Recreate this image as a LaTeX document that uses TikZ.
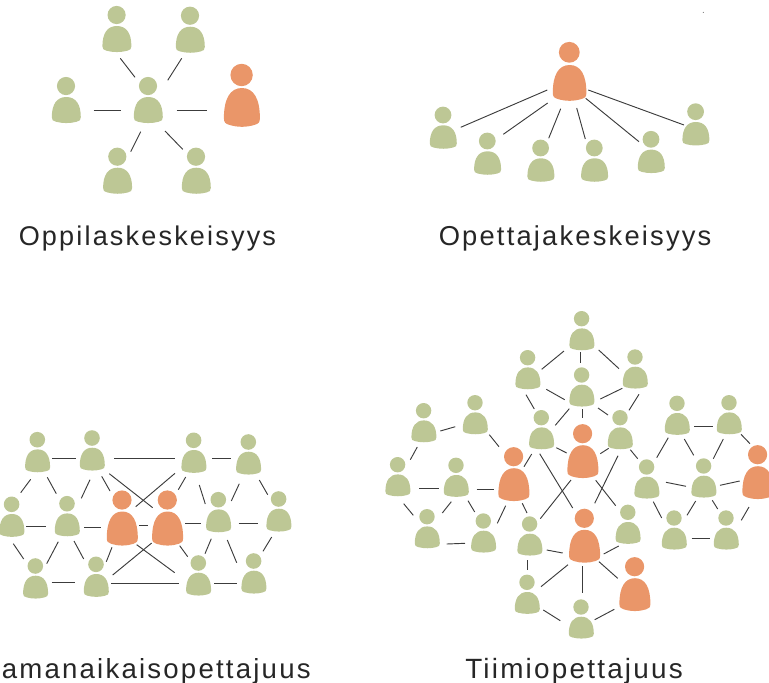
\documentclass[tikz,border=0pt]{standalone}
\usepackage{fontspec}
\setmainfont[LetterSpace=8]{Liberation Sans}
\definecolor{pgreen}{HTML}{BDC795}
\definecolor{porange}{HTML}{EA9669}
\definecolor{plink}{HTML}{3C3C3C}
\tikzset{
  greenp/.style={fill=pgreen},
  orangep/.style={fill=porange},
  lnk/.style={draw=plink,line width=0.7pt},
  lab/.style={anchor=base west,inner sep=0pt,font=\fontsize{#1}{24}\selectfont,text=black!85},
  lab/.default={20.5},
  anch/.style={inner sep=0pt,minimum size=10pt,shape=circle}
}
% name, head x, head y, style, head radius, body width, body top offset, body bottom offset
\newcommand{\person}[8]{%
  \pgfmathsetmacro{\pw}{(#6+1)*0.75}%
  \pgfmathsetmacro{\ph}{(#8-#7)*0.75}%
  \pgfmathsetmacro{\pty}{#3+#7}%
  \pgfmathsetmacro{\pmy}{#3+(#8)/2}%
  \pgfmathsetmacro{\pbx}{#2+0.6}%
  \pgfmathsetmacro{\phr}{#5+0.4}%
  \node[anch] (#1) at (#2,\pmy) {};
  \fill[#4] (#2+0.3,#3) circle[radius=\phr];
  \begin{scope}[shift={(\pbx,\pty)},x=\pw pt,y=-\ph pt]
    \fill[#4] (-.5,.78) .. controls (-.5,.28) and (-.33,0) .. (0,0)
      .. controls (.33,0) and (.5,.28) .. (.5,.78)
      .. controls (.5,.89) and (.46,.92) .. (.36,.95)
      .. controls (.13,1.02) and (-.13,1.02) .. (-.36,.95)
      .. controls (-.46,.92) and (-.5,.89) .. (-.5,.78) -- cycle;
  \end{scope}}
\newcommand{\Ga}[3]{\person{#1}{#2}{#3}{greenp}{8.7}{28}{11}{37}}
\newcommand{\Oa}[3]{\person{#1}{#2}{#3}{orangep}{10.8}{35}{13}{51.7}}
\newcommand{\Gb}[3]{\person{#1}{#2}{#3}{greenp}{8}{26}{10.3}{33.7}}
\newcommand{\Ob}[3]{\person{#1}{#2}{#3}{orangep}{10}{32.6}{12.7}{48.4}}
\newcommand{\Gc}[3]{\person{#1}{#2}{#3}{greenp}{7.4}{24}{9.7}{32.5}}
\newcommand{\Oc}[3]{\person{#1}{#2}{#3}{orangep}{9.2}{30}{11.5}{45.5}}
\newcommand{\Gd}[3]{\person{#1}{#2}{#3}{greenp}{7.3}{24}{9.7}{31.5}}
\newcommand{\Od}[3]{\person{#1}{#2}{#3}{orangep}{9.2}{30}{11.5}{44.3}}
% connector between two people, its gapped end points named after them
\newcommand{\lk}[4]{%
  \coordinate (#1-#2-s) at (#3);
  \coordinate (#1-#2-e) at (#4);
  \draw[lnk] (#1-#2-s) -- (#1-#2-e);}
\begin{document}
\begin{tikzpicture}[x=0.75pt,y=-0.75pt]
\useasboundingbox (0,0) rectangle (769,683);
% ---------- Oppilaskeskeisyys
\Ga{a1}{116.3}{15}
\Ga{a2}{189.7}{15.7}
\Ga{a3}{65.7}{86}
\Ga{a4}{147.7}{86}
\Oa{a5}{241.3}{75}
\Ga{a6}{117}{156.7}
\Ga{a7}{195.7}{156.7}
\lk{a1}{a4}{120.3,58.3}{135,77.3}
\lk{a2}{a4}{181.7,58.3}{167.7,80.3}
\lk{a3}{a4}{93.7,110}{120.7,110}
\lk{a4}{a5}{176.7,110}{206.7,110}
\lk{a4}{a6}{140.7,131.7}{130.7,151.7}
\lk{a4}{a7}{165,131}{182.7,149.3}
\node[lab=20.3] (ta) at (18.5,245) {Oppilaskeskeisyys};
% ---------- Opettajakeskeisyys
\Ob{b0}{569}{52.3}
\Gb{b1}{442.7}{115}
\Gb{b2}{487}{141}
\Gb{b3}{540.3}{148}
\Gb{b4}{594}{148}
\Gb{b5}{650.7}{139.3}
\Gb{b6}{695.3}{111.7}
\lk{b1}{b0}{460.7,127.3}{547.3,90}
\lk{b2}{b0}{503.3,134.3}{547.7,103}
\lk{b3}{b0}{548.7,138.3}{560.7,108.7}
\lk{b4}{b0}{585.3,139}{576.7,108}
\lk{b5}{b0}{639,141.7}{585.7,98.3}
\lk{b6}{b0}{684,125}{588.3,90}
\fill[black!70] (703.3,12.3) circle[radius=0.5];
\node[lab] (tb) at (438.5,245) {Opettajakeskeisyys};
% ---------- (S)amanaikaisopettajuus
\Gc{c1}{37}{439.7}
\Gc{c2}{91.7}{438}
\Gc{c3}{193.3}{440.3}
\Gc{c4}{248}{442}
\Gc{c5}{11.3}{504.3}
\Gc{c6}{66.7}{503.7}
\Oc{c7}{121.7}{500}
\Oc{c8}{167}{500}
\Gc{c9}{218}{499.7}
\Gc{c10}{278.3}{499}
\Gc{c11}{35}{566}
\Gc{c12}{95.7}{564.3}
\Gc{c13}{198}{563}
\Gc{c14}{253.3}{561}
\lk{c1}{c2}{52.3,458.7}{76,458.7}
\lk{c2}{c3}{114.3,458.7}{174.7,458.7}
\lk{c3}{c4}{212,458.7}{230.7,458.7}
\lk{c1}{c5}{30.7,479.3}{20.7,492.7}
\lk{c1}{c6}{47.3,477.3}{56.3,493.7}
\lk{c2}{c6}{90,479.7}{81.3,498.3}
\lk{c2}{c7}{101.7,476.3}{110,491}
\lk{c2}{c8}{109.3,473.7}{152.7,507.7}
\lk{c3}{c7}{175,473.3}{135.7,506.7}
\lk{c3}{c8}{185.7,477}{178.3,489.7}
\lk{c3}{c9}{199.3,485}{205.3,504}
\lk{c4}{c9}{239.3,483.7}{231.3,501}
\lk{c4}{c10}{259.3,480}{267.7,494.7}
\lk{c5}{c6}{26.3,526.3}{45.7,526.3}
\lk{c6}{c7}{84.3,527.3}{101,527.3}
\lk{c7}{c8}{139.3,525.3}{147.7,525.3}
\lk{c8}{c9}{185,523.3}{201.3,523.3}
\lk{c9}{c10}{238.7,523.3}{258,523.3}
\lk{c5}{c11}{13.3,543.7}{23.7,559}
\lk{c6}{c11}{58.3,541.7}{46.7,563.7}
\lk{c6}{c12}{74,541}{83.7,559}
\lk{c7}{c12}{112,547.3}{106.3,561.7}
\lk{c7}{c13}{136.7,544.7}{174.7,572.7}
\lk{c8}{c12}{151.7,543}{112.7,575}
\lk{c8}{c13}{179.7,545.7}{187.7,556.7}
\lk{c9}{c13}{211.3,538.7}{205,553.7}
\lk{c9}{c14}{227.3,540}{236.7,562.7}
\lk{c10}{c14}{271.7,537}{263,551.3}
\lk{c11}{c12}{51.7,582.3}{74.7,582.3}
\lk{c12}{c13}{111,583}{179.3,583}
\lk{c13}{c14}{214,583}{237.3,583}
\node[lab=20.7] (tc) at (1.5,678) {amanaikaisopettajuus};
% ---------- Tiimiopettajuus
\Gd{d1}{581.3}{318.7}
\Gd{d2}{527.3}{357.7}
\Gd{d3}{581.3}{375}
\Gd{d4}{634.7}{357}
\Gd{d5}{541}{417.7}
\Od{d6}{582.3}{433.7}
\Gd{d7}{619.7}{417.7}
\Gd{d8}{423.3}{410.7}
\Gd{d9}{474.7}{402.7}
\Gd{d10}{397.3}{464.7}
\Gd{d11}{455.7}{465.3}
\Od{d12}{513.3}{456.7}
\Gd{d13}{426.7}{516.7}
\Gd{d14}{483}{521}
\Gd{d15}{529.3}{524}
\Od{d16}{584}{518.3}
\Gd{d17}{627.5}{512.3}
\Gd{d18}{526.7}{582.3}
\Od{d19}{634.3}{566.7}
\Gd{d20}{580.7}{607}
\Gd{d21}{646.3}{467}
\Gd{d22}{676.7}{403.3}
\Gd{d23}{728.7}{402.7}
\Gd{d24}{703.3}{466}
\Od{d25}{757.3}{454.7}
\Gd{d26}{673.7}{518}
\Gd{d27}{725.7}{518}
\lk{d1}{d2}{564,351}{541.7,369.3}
\lk{d2}{d3}{546.3,389.3}{564.7,399.7}
\lk{d2}{d5}{526,394.7}{534.3,409}
\lk{d3}{d5}{569.3,408.7}{555.3,425.3}
\lk{d8}{d9}{440.3,431}{455.3,426.7}
\lk{d9}{d12}{489.3,434.7}{499,446.7}
\lk{d8}{d10}{417.3,447}{410.3,459.7}
\lk{d5}{d12}{531.7,454}{524,466.7}
\lk{d5}{d6}{556.3,447.7}{566.7,453}
\lk{d10}{d11}{419.3,488.3}{439,488.3}
\lk{d11}{d12}{476.7,489}{494,489}
\lk{d1}{d3}{580.7,352.3}{580.7,362.7}
\lk{d1}{d4}{598.7,350}{619,368.7}
\lk{d3}{d4}{622.3,388.3}{600.3,399}
\lk{d4}{d7}{639,394.3}{629,410.3}
\lk{d3}{d6}{582.3,409.3}{582.3,418}
\lk{d3}{d7}{598,408}{608,415}
\lk{d6}{d7}{600.3,453.7}{608.7,448.3}
\lk{d7}{d21}{630.3,449.7}{637.7,458.7}
\lk{d5}{d16}{539.7,453.7}{572.7,508}
\lk{d6}{d15}{571,480}{540.3,518.7}
\lk{d7}{d16}{618,455.7}{594.7,503.3}
\lk{d6}{d17}{595.7,480.3}{615.7,505.7}
\lk{d12}{d14}{505.7,505.7}{497.3,523.3}
\lk{d12}{d15}{522.3,503.3}{527,513}
\lk{d15}{d16}{546.7,550}{562.7,553}
\lk{d17}{d16}{618.7,546}{603.7,554}
\lk{d21}{d22}{668.3,437.7}{656.7,457.7}
\lk{d22}{d24}{684.3,439}{693.7,455.3}
\lk{d23}{d24}{723.3,439}{713.3,458.7}
\lk{d22}{d23}{694,426.3}{712.7,426.3}
\lk{d23}{d25}{741,434.3}{750,443.7}
\lk{d21}{d24}{666,482.3}{686,486.3}
\lk{d24}{d25}{720,485.3}{739.7,481}
\lk{d10}{d13}{403.7,503.7}{413.3,515.3}
\lk{d11}{d13}{451.3,501.7}{442.3,513}
\lk{d11}{d14}{468,500.7}{474.7,512}
\lk{d13}{d14}{446.7,544}{465,543.3}
\lk{d21}{d26}{653.3,501.7}{661.7,518}
\lk{d24}{d26}{695.7,501}{687,515.3}
\lk{d24}{d27}{712.3,500.3}{717.7,509}
\lk{d25}{d27}{749,507}{741.3,520.3}
\lk{d26}{d27}{691.7,538.7}{710.3,538.7}
\lk{d15}{d18}{527.3,560.3}{527.3,570.3}
\lk{d16}{d18}{568,564.7}{541,586.7}
\lk{d16}{d20}{582.3,566.3}{582.3,593.3}
\lk{d16}{d19}{599,561.7}{617.7,578.3}
\lk{d18}{d20}{543.3,610}{560.3,620.7}
\lk{d19}{d20}{614.3,609.3}{594.7,619.7}
\node[lab=20.9] (td) at (465,678) {Tiimiopettajuus};
\end{tikzpicture}
\end{document}
